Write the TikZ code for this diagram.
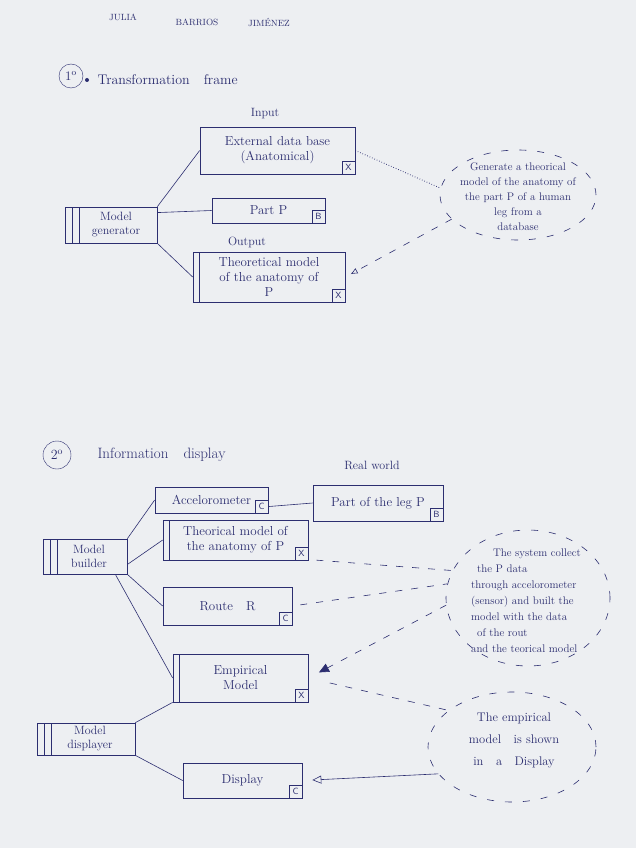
\documentclass[tikz,border=0pt]{standalone}
\usepackage{tikz}
\usetikzlibrary{arrows.meta,shapes.geometric}
\definecolor{ink}{RGB}{44,46,112}
\definecolor{paper}{RGB}{237,239,242}

\begin{document}
\begin{tikzpicture}[x=1pt,y=-1pt,
  every node/.style={text=ink},
  box/.style={draw=ink, line width=0.7pt, inner sep=2pt, align=center,
    font=\fontsize{13}{15}\selectfont},
  databox/.style={box, path picture={\draw[ink,line width=0.7pt]
    ([xshift=6pt]path picture bounding box.north west) --
    ([xshift=6pt]path picture bounding box.south west);}},
  procbox/.style={box, font=\fontsize{12}{14}\selectfont, path picture={\draw[ink,line width=0.7pt]
    ([xshift=7pt]path picture bounding box.north west) --
    ([xshift=7pt]path picture bounding box.south west)
    ([xshift=14pt]path picture bounding box.north west) --
    ([xshift=14pt]path picture bounding box.south west);}},
  tag/.style={draw=ink, line width=0.6pt, inner sep=1pt, minimum size=13pt,
    anchor=south east, font=\fontsize{9}{9}\selectfont\sffamily},
  link/.style={draw=ink, line width=0.6pt},
  hint/.style={link, dash pattern=on 7pt off 9pt},
  goal/.style={ellipse, draw=ink, line width=0.6pt, dash pattern=on 7pt off 11pt},
  label/.style={font=\fontsize{12}{14}\selectfont},
]
  \fill[paper] (0,0) rectangle (636,848);
  \useasboundingbox (0,0) rectangle (636,848);

  \node[font=\fontsize{9}{10}\selectfont] (first) at (123,17) {JULIA};
  \node[font=\fontsize{9}{10}\selectfont] (middle) at (197,22) {BARRIOS};
  \node[font=\fontsize{9}{10}\selectfont] (last) at (269,23) {JIMÉNEZ};

  \node[draw=ink, circle, minimum size=24pt, inner sep=0pt,
    font=\fontsize{13}{13}\selectfont] (s1) at (71,76) {1\textsuperscript{o}};
  \fill[ink] (87,80) circle (2pt);
  \node[anchor=west, font=\fontsize{14}{16}\selectfont] (t1) at (94,80)
    {Transformation\quad frame};

  \node[label] (inlab) at (265,114) {Input};
  \node[label] (outlab) at (247,242) {Output};
  \node[box, minimum width=155pt, minimum height=47pt] (ext) at (277.5,150.5)
    {External data base\\(Anatomical)};
  \node[tag] (extX) at (ext.south east) {X};
  \node[box, minimum width=113pt, minimum height=25pt] (partp) at (268.5,210.5) {Part P};
  \node[tag] (partpB) at (partp.south east) {B};
  \node[databox, minimum width=152pt, minimum height=50pt] (theo) at (269,277)
    {Theoretical model\\of the anatomy of\\P};
  \node[tag] (theoX) at (theo.south east) {X};
  \node[procbox, minimum width=92pt, minimum height=36pt] (gen) at (111,225)
    {\hspace*{10pt}Model\\\hspace*{10pt}generator};

  \draw[link] (gen.north east) -- (ext.west);
  \draw[link] (gen.15) -- (partp.west);
  \draw[link] (gen.south east) -- (theo.west);

  \node[goal, minimum width=156pt, minimum height=90pt] (goal1) at (518,195) {};
  \node[align=center, font=\fontsize{11}{15}\selectfont] (goal1txt) at (518,197)
    {Generate a theorical\\model of the anatomy of\\the part P of a human\\leg from a\\database};
  \draw[link, dotted, line width=0.9pt] (ext.east) -- (goal1.175);
  \draw[hint, -{Latex[open,length=7pt,width=6pt]}, shorten >=6pt] (goal1.200) -- (theo.east);

  \node[draw=ink, circle, minimum size=28pt, inner sep=0pt,
    font=\fontsize{14}{14}\selectfont] (s2) at (57,455) {2\textsuperscript{o}};
  \node[anchor=west, font=\fontsize{15}{17}\selectfont] (t2) at (94,455)
    {Information\quad display};

  \node[label] (reallab) at (372,465) {Real world};
  \node[box, minimum width=113pt, minimum height=26pt] (acc) at (211.5,500) {Accelorometer};
  \node[tag] (accC) at (acc.south east) {C};
  \node[box, minimum width=130pt, minimum height=36pt] (leg) at (378,503) {Part of the leg P};
  \node[tag] (legB) at (leg.south east) {B};
  \node[databox, minimum width=145pt, minimum height=40pt] (tmod) at (235.5,540)
    {Theorical model of\\the anatomy of P};
  \node[tag] (tmodX) at (tmod.south east) {X};
  \node[box, minimum width=129pt, minimum height=38pt] (route) at (227.5,606) {Route\quad R};
  \node[tag] (routeC) at (route.south east) {C};
  \node[databox, minimum width=135pt, minimum height=48pt] (emp) at (240.5,678)
    {Empirical\\Model};
  \node[tag] (empX) at (emp.south east) {X};
  \node[box, minimum width=119pt, minimum height=35pt] (screen) at (242.5,780.5) {Display};
  \node[tag] (screenC) at (screen.south east) {C};
  \node[procbox, minimum width=84pt, minimum height=35pt] (bld) at (85,556.5)
    {\hspace*{8pt}Model\\\hspace*{8pt}builder};
  \node[procbox, minimum width=98pt, minimum height=32pt] (dsp) at (86,739)
    {\hspace*{8pt}Model\\\hspace*{8pt}displayer};

  \draw[link] (accC.east) -- (leg.west);
  \draw[link] (bld.north east) -- (acc.west);
  \draw[link] ([yshift=-8pt]bld.east) -- (tmod.west);
  \draw[link] (bld.south east) -- (route.west);
  \draw[link] ([xshift=-12pt]bld.south east) -- (emp.west);
  \draw[link] (dsp.north east) -- (emp.south west);
  \draw[link] (dsp.south east) -- (screen.west);

  \node[goal, minimum width=164pt, minimum height=136pt] (goal2) at (528,598) {};
  \node[align=left, font=\fontsize{11}{16}\selectfont] (goal2txt) at (526,601)
    {\hspace*{22pt}The system collect\\\hspace*{6pt}the P data\\through accelorometer\\(sensor) and built the\\model with the data\\\hspace*{6pt}of the rout\\and the teorical model};
  \draw[hint, shorten <=8pt] (tmod.-15) -- (goal2.160);
  \draw[hint, shorten <=8pt] (route.east) -- (goal2.170);
  \draw[hint, -{Triangle[length=10pt,width=9pt]}, shorten >=12pt] (goal2.185) -- (emp.east);

  \node[goal, minimum width=168pt, minimum height=110pt] (goal3) at (512,747) {};
  \node[align=center, font=\fontsize{12.5}{22}\selectfont] (goal3txt) at (514,740)
    {The empirical\\model\quad is shown\\in\quad a\quad Display};
  \draw[hint, shorten <=22pt] (emp.east) -- (goal3.150);
  \draw[link, -{Triangle[open,length=9pt,width=8pt]}, shorten >=10pt] (goal3.200) -- (screen.east);
\end{tikzpicture}
\end{document}
